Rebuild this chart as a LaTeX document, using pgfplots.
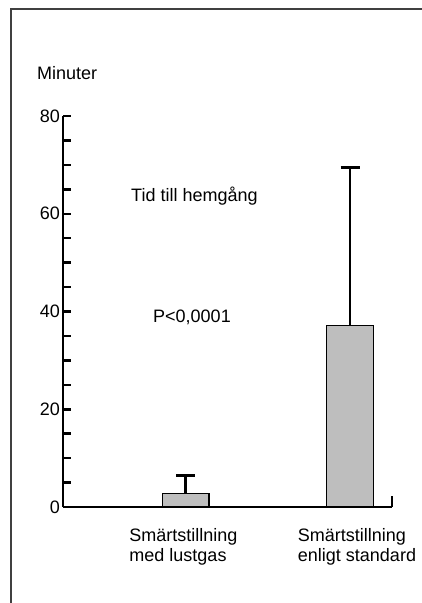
\documentclass[border=0pt]{standalone}
\usepackage{fontspec}
\setmainfont{Liberation Sans}
\usepackage{pgfplots}
\pgfplotsset{compat=1.18}
\definecolor{barfill}{HTML}{BEBEBE}
\begin{document}
\fontsize{18bp}{21bp}\selectfont
\begin{tikzpicture}
\path[use as bounding box] (0,0) rectangle (422bp,603bp);
\draw[line width=1.2bp, black!75] (11bp,0) -- (11bp,594bp) -- (422bp,594bp);
\begin{axis}[
  at={(63bp,96bp)}, anchor=origin,
  scale only axis, width=329bp, height=391bp,
  xmin=0, xmax=329, ymin=0, ymax=80,
  axis x line=bottom, axis y line=left,
  axis line style={-, line width=2.5bp},
  /pgf/number format/assume math mode=true,
  ytick={0,20,40,60,80},
  minor ytick={5,10,15,25,30,35,45,50,55,65,70,75},
  tick align=inside,
  major tick length=8bp, minor tick length=8bp,
  every tick/.style={line width=2.5bp, black},
  yticklabel style={font=\fontsize{18bp}{21bp}\selectfont, inner sep=3bp},
  xtick=\empty,
  extra x ticks={120.5,294},
  extra x tick labels={{Smärtstillning\\med lustgas},{Smärtstillning\\enligt standard}},
  extra x tick style={tick style={draw=none},
    xticklabel style={align=left, font=\fontsize{18bp}{20bp}\selectfont, yshift=-15bp}},
  clip=false,
]
\addplot[ybar, bar width=46.5, fill=barfill, draw=black, line width=1.3bp,
  error bars/.cd, y dir=plus, y explicit,
  error bar style={line width=2.5bp, black},
  error mark options={rotate=90, mark size=9.5bp, line width=3bp, black}]
  coordinates {(122.7,2.7) +- (0,3.8) (287,37.2) +- (0,32.3)};
\draw[line width=2.5bp] (axis cs:329,0) -- ++(0,11bp);
\end{axis}
\node[anchor=base west, inner sep=0] at (37bp,523bp) {Minuter};
\node[anchor=base west, inner sep=0] at (131bp,401bp) {Tid till hemgång};
\node[anchor=base west, inner sep=0] at (153bp,280bp) {P<0,0001};
\end{tikzpicture}
\end{document}
